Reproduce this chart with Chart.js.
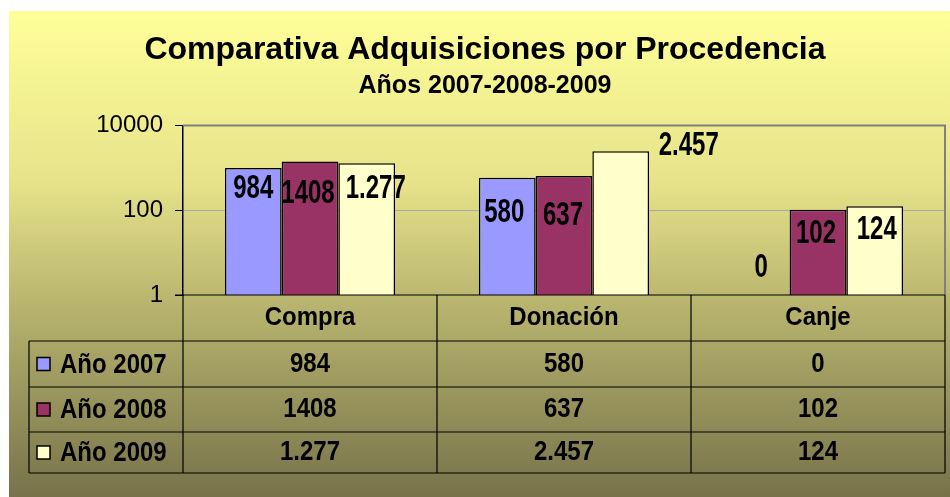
<!DOCTYPE html>
<html>
<head>
<meta charset="utf-8">
<script src="https://cdn.jsdelivr.net/npm/chart.js"></script>
<style>
  body { margin: 0; background: #fff; }
  #wrap { position: absolute; left: 9px; top: 11px; width: 941px; height: 486px; }
</style>
</head>
<body>
<div id="wrap"><canvas id="myChart"></canvas></div>
<script>
    //=======================================================//
    // Comparativa Adquisiciones por Procedencia (myChart)

    Chart.defaults.font.family = "'Liberation Sans', Arial, sans-serif";
    Chart.defaults.color = 'black';

    const categorias = ['Compra', 'Donación', 'Canje'];

    const series = [
      { label: 'Año 2007', data: [984, 580, 0], texto: ['984', '580', '0'], color: '#9999FF' },
      { label: 'Año 2008', data: [1408, 637, 102], texto: ['1408', '637', '102'], color: '#993366' },
      { label: 'Año 2009', data: [1277, 2457, 124], texto: ['1.277', '2.457', '124'], color: '#FFFFCC' }
    ];

    // desplazamiento de las etiquetas (px) respecto al tope de cada barra
    const posEtiqueta = [
      [[0, 21], [-3, 35], [0, -27]],
      [[-2, 32], [-1, 40], [-2, 24]],
      [[9, 25], [68, -6], [2, 23]]
    ];

    // alto de las filas de la tabla: cabecera + 3 años
    const altoFilas = [46, 46, 45, 41];

    // texto estirado en vertical (como en el original de Excel)
    function textoAlto(c, txt, x, y, sy) {
      c.save();
      c.translate(x, y);
      c.scale(1, sy);
      c.fillText(txt, 0, 0);
      c.restore();
    }

    // fondo degradado del grafico
    const fondo = {
      id: 'fondo',
      beforeDraw(chart) {
        const c = chart.ctx;
        const g = c.createLinearGradient(0, 0, 0, chart.height);
        g.addColorStop(0, '#FFFF99');
        g.addColorStop(0.35, '#E6E38A');
        g.addColorStop(0.6, '#B9B56F');
        g.addColorStop(1, '#77724A');
        c.save();
        c.fillStyle = g;
        c.fillRect(0, 0, chart.width, chart.height);
        c.restore();
      }
    };

    // etiquetas de valores sobre las barras
    const etiquetas = {
      id: 'etiquetas',
      afterDatasetsDraw(chart) {
        const c = chart.ctx;
        const y = chart.scales.y;
        c.save();
        c.font = 'bold 24px ' + Chart.defaults.font.family;
        c.fillStyle = 'black';
        c.textAlign = 'center';
        c.textBaseline = 'middle';
        series.forEach((s, i) => {
          const meta = chart.getDatasetMeta(i);
          s.data.forEach((v, j) => {
            const bar = meta.data[j];
            const top = y.getPixelForValue(v);
            textoAlto(c, s.texto[j], bar.x + posEtiqueta[i][j][0], top + posEtiqueta[i][j][1], 1.4);
          });
        });
        c.restore();
      }
    };

    // tabla de datos debajo del grafico
    const tabla = {
      id: 'tabla',
      afterDraw(chart) {
        const c = chart.ctx;
        const area = chart.chartArea;
        const ancho = (area.right - area.left) / categorias.length;
        const izq = 20;
        const filas = [area.bottom];
        altoFilas.forEach(h => filas.push(filas[filas.length - 1] + h));
        const fin = filas[filas.length - 1];

        c.save();
        // borde del area de trazado
        c.strokeStyle = '#808080';
        c.lineWidth = 2;
        c.beginPath();
        c.moveTo(area.left, area.top);
        c.lineTo(area.right, area.top);
        c.lineTo(area.right, area.bottom);
        c.stroke();

        c.strokeStyle = 'black';
        c.lineWidth = 1.2;
        c.beginPath();
        // lineas horizontales
        c.moveTo(area.left - 8, filas[0]);
        c.lineTo(area.right, filas[0]);
        for (let k = 1; k < filas.length; k++) {
          c.moveTo(izq, filas[k]);
          c.lineTo(area.right, filas[k]);
        }
        // lineas verticales
        c.moveTo(izq, filas[1]);
        c.lineTo(izq, fin);
        for (let k = 0; k <= categorias.length; k++) {
          c.moveTo(area.left + k * ancho, filas[0]);
          c.lineTo(area.left + k * ancho, fin);
        }
        c.stroke();

        c.font = 'bold 24px ' + Chart.defaults.font.family;
        c.fillStyle = 'black';
        c.textBaseline = 'middle';
        c.textAlign = 'center';
        categorias.forEach((cat, k) => {
          const cx = area.left + (k + 0.5) * ancho;
          textoAlto(c, cat, cx, (filas[0] + filas[1]) / 2, 1.1);
          series.forEach((s, i) => {
            textoAlto(c, s.texto[k], cx, (filas[i + 1] + filas[i + 2]) / 2, 1.15);
          });
        });

        // leyenda en la primera columna
        c.textAlign = 'left';
        series.forEach((s, i) => {
          const cy = (filas[i + 1] + filas[i + 2]) / 2;
          c.fillStyle = s.color;
          c.fillRect(28, cy - 6.5, 13, 13);
          c.strokeStyle = 'black';
          c.lineWidth = 1.5;
          c.strokeRect(28, cy - 6.5, 13, 13);
          c.fillStyle = 'black';
          textoAlto(c, s.label, 51, cy + 1, 1.15);
        });
        c.restore();
      }
    };

    const ctx = document.getElementById('myChart');
    new Chart(ctx, {
      type: 'bar',
      data: {
        labels: categorias,
        datasets: series.map(s => ({
          label: s.label,
          data: s.data,
          backgroundColor: s.color,
          borderColor: 'black',
          borderWidth: 1.5,
          barPercentage: 1.0,
          categoryPercentage: 0.67
        }))
      },
      options: {
        responsive: true,
        maintainAspectRatio: false,
        animation: false,
        layout: {
          padding: { left: 16, right: 5, top: 0, bottom: 202 }
        },
        scales: {
          x: {
            display: false
          },
          y: {
            type: 'logarithmic',
            min: 1,
            max: 10000,
            afterBuildTicks: function(scale) {
              scale.ticks = [{ value: 1 }, { value: 100 }, { value: 10000 }];
            },
            afterFit: function(scale) {
              scale.width = 158;
            },
            ticks: {
              color: 'black',
              padding: 12,
              font: { size: 24 },
              callback: function(value) {
                return String(value);
              }
            },
            grid: {
              color: function(context) {
                return context.tick && context.tick.value === 100 ? '#A8A8A8' : 'rgba(0,0,0,0)';
              },
              tickColor: 'black',
              tickLength: 8,
              lineWidth: 1
            },
            border: {
              color: 'black',
              width: 1.5
            }
          }
        },
        plugins: {
          legend: {
            display: false
          },
          tooltip: {
            enabled: false
          },
          title: {
            display: true,
            text: 'Comparativa Adquisiciones por Procedencia',
            color: 'black',
            font: { size: 32, weight: 'bold' },
            padding: { top: 20, bottom: 0 }
          },
          subtitle: {
            display: true,
            text: 'Años 2007-2008-2009',
            color: 'black',
            font: { size: 25, weight: 'bold' },
            padding: { top: 2, bottom: 24 }
          }
        }
      },
      plugins: [fondo, etiquetas, tabla]
    });
</script>
</body>
</html>
